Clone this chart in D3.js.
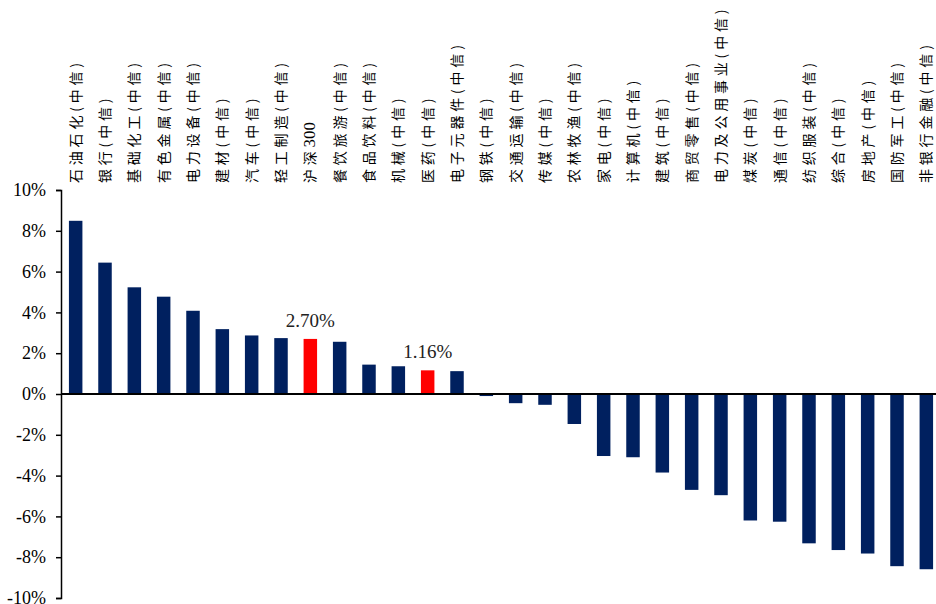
<!DOCTYPE html>
<html>
<head>
<meta charset="utf-8">
<script src="https://cdn.jsdelivr.net/npm/d3@7"></script>
<style>
  body { margin: 0; background: #fff; }
</style>
</head>
<body>
<div class="canvas"></div>
<script>
// industry names (CITIC), in chart order
const categories = ['石油石化(中信)', '银行(中信)', '基础化工(中信)', '有色金属(中信)', '电力设备(中信)',
  '建材(中信)', '汽车(中信)', '轻工制造(中信)', '沪深300', '餐饮旅游(中信)', '食品饮料(中信)',
  '机械(中信)', '医药(中信)', '电子元器件(中信)', '钢铁(中信)', '交通运输(中信)', '传媒(中信)',
  '农林牧渔(中信)', '家电(中信)', '计算机(中信)', '建筑(中信)', '商贸零售(中信)',
  '电力及公用事业(中信)', '煤炭(中信)', '通信(中信)', '纺织服装(中信)', '综合(中信)',
  '房地产(中信)', '国防军工(中信)', '非银行金融(中信)'];

// returns in %
const values = [8.49, 6.44, 5.23, 4.77, 4.08, 3.18, 2.87, 2.74, 2.70, 2.56, 1.44,
  1.36, 1.16, 1.12, -0.10, -0.45, -0.53, -1.47, -3.04, -3.10, -3.85, -4.70,
  -4.96, -6.20, -6.26, -7.32, -7.65, -7.82, -8.44, -8.59];

// highlighted bars with value labels
const highlighted = ['沪深300', '医药(中信)'];

const yTicks = [-10, -8, -6, -4, -2, 0, 2, 4, 6, 8, 10];

const width = 936, height = 604;

const svg = d3.select('.canvas').append('svg')
    .attr('width', width)
    .attr('height', height);

const x = d3.scaleBand()
    .domain(categories)
    .range([61, 941])
    .paddingInner(0.54)
    .paddingOuter(0.27);

const y = d3.scaleLinear()
    .domain([-10, 10])
    .range([598, 190]);

// bars
svg.selectAll('rect.bar')
    .data(categories)
    .enter().append('rect')
    .attr('class', 'bar')
    .attr('x', d => x(d))
    .attr('width', x.bandwidth())
    .attr('y', (d, i) => y(Math.max(0, values[i])))
    .attr('height', (d, i) => Math.abs(y(values[i]) - y(0)))
    .attr('fill', d => highlighted.includes(d) ? '#ff0000' : '#00205f');

// value labels on the highlighted bars
svg.selectAll('text.val')
    .data(categories.filter(d => highlighted.includes(d)))
    .enter().append('text')
    .attr('class', 'val')
    .attr('x', d => x(d) + x.bandwidth() / 2)
    .attr('y', d => y(values[categories.indexOf(d)]) - 12)
    .attr('text-anchor', 'middle')
    .style('font-family', '"Liberation Serif", "Times New Roman", serif')
    .style('font-size', '19px')
    .attr('fill', '#222')
    .text(d => values[categories.indexOf(d)].toFixed(2) + '%');

// y axis
const yAxis = d3.axisLeft(y)
    .tickValues(yTicks)
    .tickSize(5)
    .tickFormat(d => d + '%');

const gy = svg.append('g')
    .attr('transform', 'translate(61,0)')
    .call(yAxis);
gy.select('.domain').attr('stroke', '#000').attr('stroke-width', 1.5);
gy.selectAll('.tick line').attr('stroke', '#000').attr('stroke-width', 1.5);
gy.selectAll('.tick text')
    .attr('x', -15)
    .attr('fill', '#000')
    .style('font-family', '"Liberation Serif", "Times New Roman", serif')
    .style('font-size', '18px');

// zero line
svg.append('line')
    .attr('x1', 61)
    .attr('x2', width)
    .attr('y1', y(0))
    .attr('y2', y(0))
    .attr('stroke', '#000')
    .attr('stroke-width', 2);

// vertical category labels along the top
const cat = svg.selectAll('text.cat')
    .data(categories)
    .enter().append('text')
    .attr('class', 'cat')
    .attr('transform', d => `translate(${x(d) + x.bandwidth() / 2 + 5},183) rotate(-90)`)
    .attr('text-anchor', 'start')
    .style('font-family', '"Noto Sans CJK SC", sans-serif')
    .style('font-size', '14px')
    .attr('fill', '#000');

// split into runs so that digits stay compact (like "300") while CJK gets spaced out
cat.selectAll('tspan')
    .data(d => d.match(/[0-9]+|[^0-9]+/g))
    .enter().append('tspan')
    .style('letter-spacing', s => /[0-9]/.test(s) ? '0px' : '3.8px')
    .style('font-family', s => /[0-9]/.test(s) ? '"Liberation Serif", serif' : null)
    .style('font-size', s => /[0-9]/.test(s) ? '17px' : null)
    .text(s => s);
</script>
</body>
</html>
